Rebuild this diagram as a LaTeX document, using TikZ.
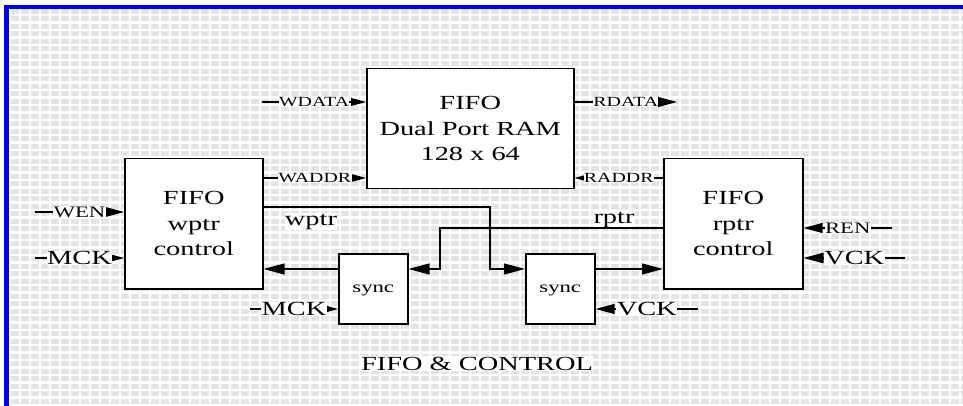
\documentclass[tikz,border=0pt]{standalone}
\usepackage{fontspec}
\setmainfont{Liberation Serif}[FakeStretch=1.42]
\usepackage{tikz}
\usetikzlibrary{positioning, arrows.meta, calc}
\definecolor{cFrame}{HTML}{0000FF}
\definecolor{cCell} {HTML}{E4E4E4}

\begin{document}
\begin{tikzpicture}[x=1pt, y=-1pt,
    blk/.style={draw, fill=white, line width=1.5pt, align=center, inner sep=0pt,
                anchor=north west, font=\fontsize{20}{25.5}\selectfont},
    wire/.style={line width=1.3pt},
    lbl/.style={fill=white, inner sep=0.4pt, font=\fontsize{#1}{#1}\selectfont},
    pointer/.style={-{Triangle[length=#1, width'=0pt 0.52]}},
  ]
  % canvas
  \useasboundingbox (0,0) rectangle (963,406);
  \fill[cCell] (10,9) rectangle (963,406);
  \draw[white, line width=2.2pt, xstep=10pt, ystep=7.5pt] (10,9) grid (963,406);
  \fill[cFrame] (4,5) rectangle (963,9);
  \fill[cFrame] (4,5) rectangle (9,406);

  % blocks
  \node[blk, minimum width=207pt, minimum height=120pt] (ram) at (366,68)
       {FIFO\\Dual Port RAM\\128 x 64};
  \node[blk, minimum width=138pt, minimum height=130pt] (wctl) at (124,158)
       {FIFO\\wptr\\control};
  \node[blk, minimum width=139pt, minimum height=130pt] (rctl) at (663,158)
       {FIFO\\rptr\\control};
  \node[blk, minimum width=69pt, minimum height=70pt, text depth=0pt,
        font=\fontsize{16}{16}\selectfont] (wsync) at (338,253) {sync};
  \node[blk, minimum width=69pt, minimum height=70pt, text depth=0pt,
        font=\fontsize{16}{16}\selectfont] (rsync) at (525,253) {sync};

  % free ends
  \coordinate (wdata_in)  at (262,102);
  \coordinate (rdata_out) at (677,102);
  \coordinate (wen_in)    at (35,212);
  \coordinate (mck_in)    at (35,258);
  \coordinate (smck_in)   at (250,309);
  \coordinate (ren_in)    at (892,228);
  \coordinate (vck_in)    at (905,258);
  \coordinate (svck_in)   at (698,309);

  % pointer labels
  \node[lbl=20, anchor=base] (wptr_lbl) at (311,225) {wptr};
  \node[lbl=20, anchor=base] (rptr_lbl) at (614,223) {rptr};

  % data / address
  \draw[wire, pointer=15pt] (wdata_in) -- node[lbl=14] {WDATA} (wdata_in -| ram.west);
  \draw[wire, pointer=15pt] (wctl.east |- 0,178) -- node[lbl=14] {WADDR} (ram.west |- 0,178);
  \draw[wire, pointer=19pt] (ram.east |- rdata_out) -- node[lbl=14] {RDATA} (rdata_out);
  \draw[wire, pointer=11pt] (rctl.west |- 0,178) -- node[lbl=14] {RADDR} (ram.east |- 0,178);

  % enables and clocks
  \draw[wire, pointer=18pt] (wen_in) -- node[lbl=16] {WEN} (wen_in -| wctl.west);
  \draw[wire, pointer=12pt] (mck_in) -- node[lbl=20] {MCK} (mck_in -| wctl.west);
  \draw[wire, pointer=11pt] (smck_in) -- node[lbl=20] {MCK} (smck_in -| wsync.west);
  \draw[wire, pointer=19pt] (ren_in) -- node[lbl=16] {REN} (ren_in -| rctl.east);
  \draw[wire, pointer=20pt] (vck_in) -- node[lbl=20] {VCK} (vck_in -| rctl.east);
  \draw[wire, pointer=19pt] (svck_in) -- node[lbl=20] {VCK} (svck_in -| rsync.east);

  % pointer crossing
  \draw[wire, pointer=21pt] (wctl.east |- 0,207) -| (490,269) -- (rsync.west |- 0,269);
  \draw[wire, pointer=21pt] (rctl.west |- 0,228) -| (440,269) -- (wsync.east |- 0,269);
  \draw[wire, pointer=21pt] (wsync.west |- 0,269) -- (wctl.east |- 0,269);
  \draw[wire, pointer=21pt] (rsync.east |- 0,269) -- (rctl.west |- 0,269);

  \node[lbl=20, anchor=base] (title) at (477,370) {FIFO \& CONTROL};
\end{tikzpicture}
\end{document}
